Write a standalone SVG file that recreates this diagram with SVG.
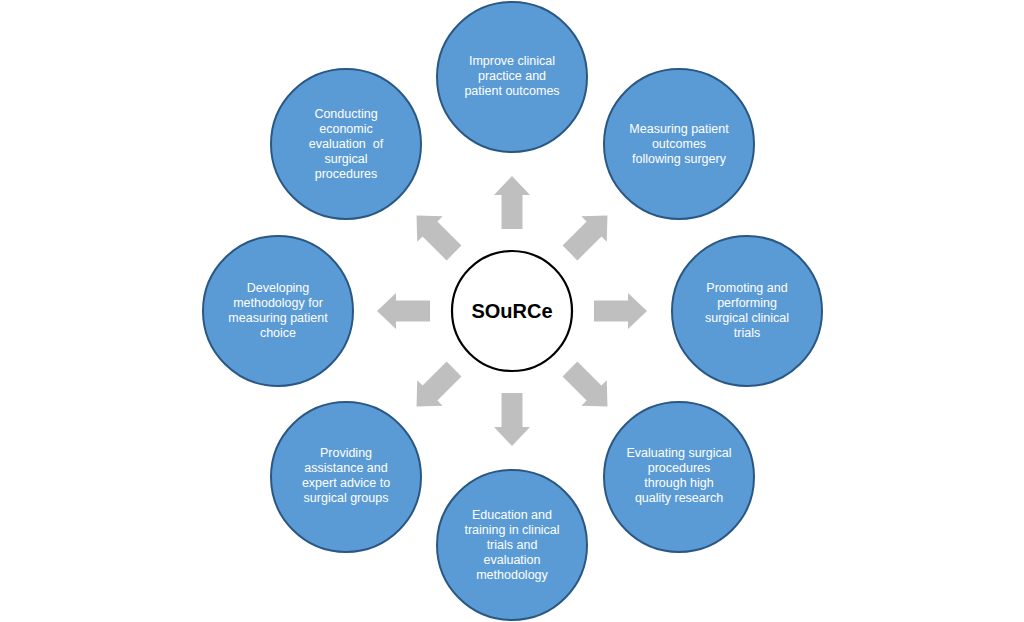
<svg xmlns="http://www.w3.org/2000/svg" width="1024" height="622" viewBox="0 0 1024 622">
<style>
.node{fill:#5B9BD5;stroke:#2A5783;stroke-width:2}
.lbl{font-family:"Liberation Sans",Arial,sans-serif;font-size:12.5px;fill:#FFFFFF;text-anchor:middle}
.arrow{fill:#BFBFBF}
.hub{fill:#FFFFFF;stroke:#000000;stroke-width:2.2}
.hubtxt{font-family:"Liberation Sans",Arial,sans-serif;font-size:20px;font-weight:bold;fill:#000000;text-anchor:middle}
</style>
<defs>
<path id="arr" class="arrow" d="M82,-10.5 L116,-10.5 L116,-18 L135,0 L116,18 L116,10.5 L82,10.5 Z"/>
</defs>
<rect width="1024" height="622" fill="#FFFFFF"/>
<g id="connectors" transform="translate(512,311)">
<use href="#arr" transform="rotate(-90)"/>
<use href="#arr" transform="rotate(-45)"/>
<use href="#arr" transform="rotate(0)"/>
<use href="#arr" transform="rotate(45)"/>
<use href="#arr" transform="rotate(90)"/>
<use href="#arr" transform="rotate(135)"/>
<use href="#arr" transform="rotate(180)"/>
<use href="#arr" transform="rotate(225)"/>
</g>
<g id="hub">
<circle class="hub" cx="512" cy="311" r="60"/>
<text class="hubtxt" x="512" y="318">SOuRCe</text>
</g>
<g id="n-top">
<circle class="node" cx="512" cy="77" r="75"/>
<text class="lbl" x="512" y="65">Improve clinical</text>
<text class="lbl" x="512" y="80">practice and</text>
<text class="lbl" x="512" y="95">patient outcomes</text>
</g>
<g id="n-topright">
<circle class="node" cx="679" cy="144" r="75"/>
<text class="lbl" x="679" y="133">Measuring patient</text>
<text class="lbl" x="679" y="148">outcomes</text>
<text class="lbl" x="679" y="163">following surgery</text>
</g>
<g id="n-right">
<circle class="node" cx="747" cy="311" r="75"/>
<text class="lbl" x="747" y="292">Promoting and</text>
<text class="lbl" x="747" y="307">performing</text>
<text class="lbl" x="747" y="322">surgical clinical</text>
<text class="lbl" x="747" y="337">trials</text>
</g>
<g id="n-bottomright">
<circle class="node" cx="679" cy="477" r="75"/>
<text class="lbl" x="679" y="457">Evaluating surgical</text>
<text class="lbl" x="679" y="472">procedures</text>
<text class="lbl" x="679" y="487">through high</text>
<text class="lbl" x="679" y="502">quality research</text>
</g>
<g id="n-bottom">
<circle class="node" cx="512" cy="545" r="75"/>
<text class="lbl" x="512" y="519">Education and</text>
<text class="lbl" x="512" y="534">training in clinical</text>
<text class="lbl" x="512" y="549">trials and</text>
<text class="lbl" x="512" y="564">evaluation</text>
<text class="lbl" x="512" y="579">methodology</text>
</g>
<g id="n-bottomleft">
<circle class="node" cx="346" cy="477" r="75"/>
<text class="lbl" x="346" y="457">Providing</text>
<text class="lbl" x="346" y="472">assistance and</text>
<text class="lbl" x="346" y="487">expert advice to</text>
<text class="lbl" x="346" y="502">surgical groups</text>
</g>
<g id="n-left">
<circle class="node" cx="278" cy="311" r="75"/>
<text class="lbl" x="278" y="292">Developing</text>
<text class="lbl" x="278" y="307">methodology for</text>
<text class="lbl" x="278" y="322">measuring patient</text>
<text class="lbl" x="278" y="337">choice</text>
</g>
<g id="n-topleft">
<circle class="node" cx="346" cy="144" r="75"/>
<text class="lbl" x="346" y="118">Conducting</text>
<text class="lbl" x="346" y="133">economic</text>
<text class="lbl" x="346" y="148" xml:space="preserve">evaluation  of</text>
<text class="lbl" x="346" y="163">surgical</text>
<text class="lbl" x="346" y="178">procedures</text>
</g>
</svg>
